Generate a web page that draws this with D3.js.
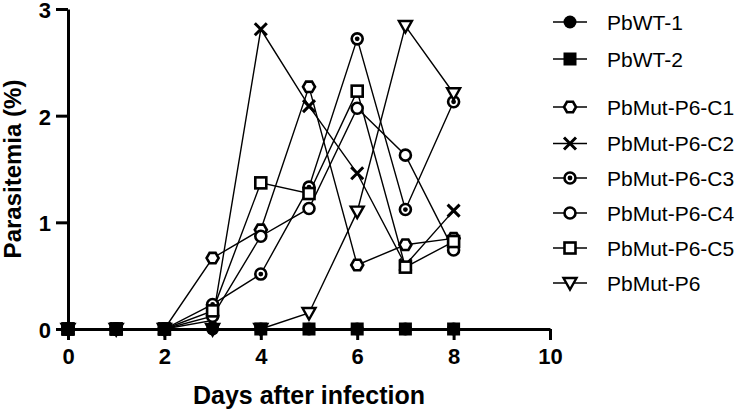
<!DOCTYPE html>
<html>
<head>
<meta charset="utf-8">
<script src="https://cdn.jsdelivr.net/npm/d3@7"></script>
<style>
  body { margin: 0; background: #fff; }
  svg { display: block; font-family: 'Liberation Sans', Arial, sans-serif; }
</style>
</head>
<body>
<svg id="chart" width="740" height="415"></svg>
<script>
const days = [0, 1, 2, 3, 4, 5, 6, 7, 8]
const xTicks = [0, 2, 4, 6, 8, 10]
const yTicks = [0, 1, 2, 3]

const wt1 = [0, 0, 0, 0, 0, 0, 0, 0, 0]
const wt2 = [0, 0, 0, null, 0, 0, 0, 0, 0]
const mutC1 = [0, 0, 0, 0.665, 0.93, 2.27, 0.60, 0.79, 0.85]
const mutC2 = [0, 0, 0, 0.08, 2.81, 2.09, 1.46, 0.60, 1.11]
const mutC3 = [0, 0, 0, 0.23, 0.515, 1.33, 2.72, 1.12, 2.13]
const mutC4 = [0, 0, 0, 0.12, 0.87, 1.13, 2.07, 1.63, 0.74]
const mutC5 = [0, 0, 0, 0.17, 1.37, 1.27, 2.23, 0.58, 0.82]
const mutP6 = [0, 0, 0, 0, 0, 0.15, 1.10, 2.84, 2.21]

const series = [
  { name: 'PbWT-1', values: wt1, marker: 'dot' },
  { name: 'PbWT-2', values: wt2, marker: 'block' },
  { name: 'PbMut-P6-C1', values: mutC1, marker: 'hexagon' },
  { name: 'PbMut-P6-C2', values: mutC2, marker: 'cross' },
  { name: 'PbMut-P6-C3', values: mutC3, marker: 'target' },
  { name: 'PbMut-P6-C4', values: mutC4, marker: 'ring' },
  { name: 'PbMut-P6-C5', values: mutC5, marker: 'box' },
  { name: 'PbMut-P6', values: mutP6, marker: 'tri' }
]

const svg = d3.select('#chart')
const plot = { left: 68, top: 9, width: 482, height: 320 }
const fontFamily = "'Liberation Sans', Arial, sans-serif"

const x = d3.scaleLinear().domain([0, 10]).range([plot.left, plot.left + plot.width])
const y = d3.scaleLinear().domain([0, 3]).range([plot.top + plot.height, plot.top])

// marker drawing, centred on 0,0
function drawMarker(g, type) {
  const sw = 2.6
  if (type === 'dot') {
    g.append('circle').attr('r', 6.5).attr('fill', '#000')
  } else if (type === 'block') {
    g.append('rect').attr('x', -6.5).attr('y', -6.5).attr('width', 13).attr('height', 13).attr('fill', '#000')
  } else if (type === 'hexagon') {
    const r = 6
    const pts = d3.range(6).map(i => [r * Math.cos(i * Math.PI / 3), r * Math.sin(i * Math.PI / 3)])
    g.append('polygon').attr('points', pts.map(p => p.join(',')).join(' '))
      .attr('fill', '#fff').attr('stroke', '#000').attr('stroke-width', sw)
  } else if (type === 'cross') {
    const r = 6
    g.append('path').attr('d', `M${-r},${-r}L${r},${r}M${-r},${r}L${r},${-r}`)
      .attr('stroke', '#000').attr('stroke-width', 3).attr('fill', 'none')
  } else if (type === 'target') {
    g.append('circle').attr('r', 5.5).attr('fill', '#fff').attr('stroke', '#000').attr('stroke-width', sw)
    g.append('circle').attr('r', 2.4).attr('fill', '#000')
  } else if (type === 'ring') {
    g.append('circle').attr('r', 5.5).attr('fill', '#fff').attr('stroke', '#000').attr('stroke-width', sw)
  } else if (type === 'box') {
    g.append('rect').attr('x', -5.5).attr('y', -5.5).attr('width', 11).attr('height', 11)
      .attr('fill', '#fff').attr('stroke', '#000').attr('stroke-width', sw)
  } else if (type === 'tri') {
    g.append('path').attr('d', 'M-6.5,-5L6.5,-5L0,6.5Z')
      .attr('fill', '#fff').attr('stroke', '#000').attr('stroke-width', 2.4).attr('stroke-linejoin', 'miter')
  }
}

// axes
const xAxis = svg.append('g')
  .attr('transform', `translate(0, ${y(0)})`)
  .call(d3.axisBottom(x).tickValues(xTicks).tickSize(11).tickSizeOuter(0).tickFormat(d3.format('d')))
xAxis.select('.domain').attr('stroke-width', 3)
xAxis.selectAll('.tick line').attr('stroke-width', 3)
xAxis.selectAll('.tick text').attr('y', 19).attr('dy', '0.71em').attr('fill', '#000')
  .style('font-family', fontFamily).style('font-size', '22px').style('font-weight', 'bold')

const yAxis = svg.append('g')
  .attr('transform', `translate(${x(0)}, 0)`)
  .call(d3.axisLeft(y).tickValues(yTicks).tickSize(12).tickSizeOuter(0).tickFormat(d3.format('d')))
yAxis.select('.domain').attr('stroke-width', 3)
yAxis.selectAll('.tick line').attr('stroke-width', 3)
yAxis.selectAll('.tick text').attr('x', -17).attr('dy', '0.38em').attr('fill', '#000')
  .style('font-family', fontFamily).style('font-size', '22px').style('font-weight', 'bold')

svg.append('text')
  .attr('transform', `translate(21, ${plot.top + plot.height / 2}) rotate(-90)`)
  .attr('text-anchor', 'middle')
  .style('font-size', '24px').style('font-weight', 'bold')
  .text('Parasitemia (%)')

svg.append('text')
  .attr('x', x(5)).attr('y', 404)
  .attr('text-anchor', 'middle')
  .style('font-size', '25px').style('font-weight', 'bold')
  .text('Days after infection')

// series lines and markers; wild types drawn last so they sit on top
const line = d3.line().defined(d => d !== null).x((d, i) => x(days[i])).y(d => y(d))
const drawOrder = series.slice(2).concat(series.slice(0, 2))
drawOrder.forEach(s => {
  svg.append('path').datum(s.values)
    .attr('d', line).attr('fill', 'none').attr('stroke', '#000').attr('stroke-width', 1.4)
})
drawOrder.forEach(s => {
  s.values.forEach((v, i) => {
    if (v === null) return
    const g = svg.append('g').attr('transform', `translate(${x(days[i])}, ${y(v)})`)
    drawMarker(g, s.marker)
  })
})

// legend
const legendRows = [22, 59, 107, 143.5, 178, 213, 248, 283]
const legend = svg.append('g')
series.forEach((s, i) => {
  const row = legend.append('g').attr('transform', `translate(570, ${legendRows[i]})`)
  row.append('line').attr('x1', -17).attr('x2', 17).attr('stroke', '#000').attr('stroke-width', 1.6)
  drawMarker(row.append('g'), s.marker)
  row.append('text').attr('x', 37).attr('dy', '0.36em')
    .style('font-size', '21px').text(s.name)
})
</script>
</body>
</html>
